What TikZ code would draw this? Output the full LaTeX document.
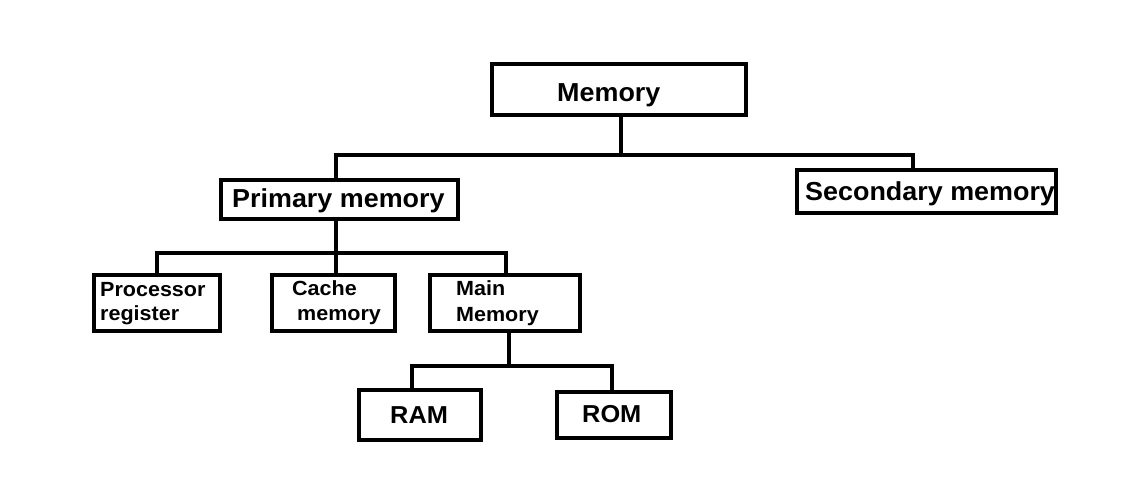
\documentclass[tikz,border=0pt]{standalone}
\usepackage{fontspec}
\setmainfont{Liberation Sans}[FakeStretch=1.035]
\newfontfamily\smallfam{Liberation Sans}[FakeStretch=1.05]
\usetikzlibrary{fit}
\begin{document}
\begin{tikzpicture}[x=1pt,y=-1pt,
  box/.style={draw=black, line width=4.5pt, inner sep=0pt, fill=white},
  wire/.style={draw=black, line width=4.5pt, line cap=rect},
  big/.style={inner sep=0pt, anchor=base west, font=\bfseries\fontsize{26}{30}\selectfont},
  mid/.style={inner sep=0pt, anchor=base west, font=\bfseries\fontsize{24.5}{28}\selectfont},
  small/.style={inner sep=0pt, anchor=base west, font=\smallfam\bfseries\fontsize{20.5}{24}\selectfont}]
\useasboundingbox[fill=white] (0,0) rectangle (1144,487);
% connector coordinates
\coordinate (j1) at (621,155);
\coordinate (pdrop) at (336,155);
\coordinate (sdrop) at (913,155);
\coordinate (j2) at (336,253);
\coordinate (prdrop) at (157,253);
\coordinate (cdrop) at (336,253);
\coordinate (mdrop) at (506,253);
\coordinate (j3) at (509,366);
\coordinate (radrop) at (412,366);
\coordinate (rodrop) at (612,366);
% boxes
\node[box, fit={(492,64)(746,115)}] (mem) {};
\node[box, fit={(221,180)(458,219)}] (prim) {};
\node[box, fit={(797,170)(1056,213)}] (sec) {};
\node[box, fit={(94,275)(220,331)}] (proc) {};
\node[box, fit={(272,275)(395,331)}] (cache) {};
\node[box, fit={(430,275)(580,331)}] (main) {};
\node[box, fit={(359,390)(481,440)}] (ram) {};
\node[box, fit={(557,392)(671,438)}] (rom) {};
% connectors
\draw[wire] (j1 |- mem.south) -- (j1);
\draw[wire] (pdrop |- prim.north) -- (pdrop) -- (sdrop) -- (sdrop |- sec.north);
\draw[wire] (j2 |- prim.south) -- (j2);
\draw[wire] (prdrop |- proc.north) -- (prdrop) -- (mdrop) -- (mdrop |- main.north);
\draw[wire] (cdrop |- cache.north) -- (cdrop);
\draw[wire] (j3 |- main.south) -- (j3);
\draw[wire] (radrop |- ram.north) -- (radrop) -- (rodrop) -- (rodrop |- rom.north);
% texts
\node[big] (tmem) at (557,102) {Memory};
\node[big] (tprim) at (232,207) {Primary memory};
\node[big] (tsec) at (805,200) {Secondary memory};
\node[small] (tproc1) at (100,296) {Processor};
\node[small] (tproc2) at (100,320) {register};
\node[small] (tcache1) at (292,295) {Cache};
\node[small] (tcache2) at (297,320) {memory};
\node[small] (tmain1) at (456,295) {Main};
\node[small] (tmain2) at (456,321) {Memory};
\node[mid] (tram) at (390,423) {RAM};
\node[mid] (trom) at (582,422) {ROM};
\end{tikzpicture}
\end{document}
